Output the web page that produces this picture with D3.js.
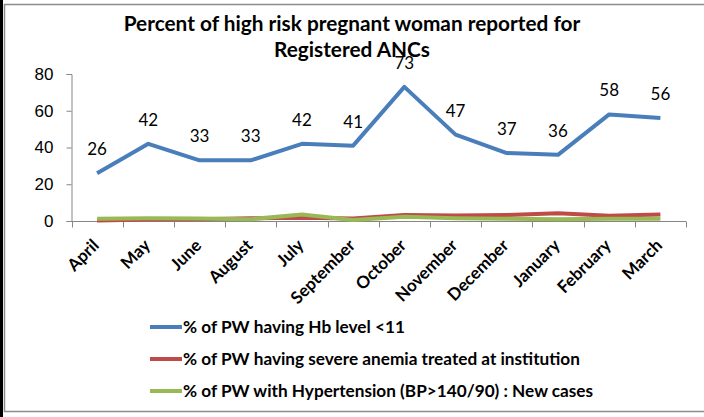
<!DOCTYPE html>
<html lang="en">
<head>
<meta charset="UTF-8">
<title>Percent of high risk pregnant woman reported for Registered ANCs</title>
<script src="https://d3js.org/d3.v7.min.js"></script>
<style>
    body { margin: 0; background: #fff; }
    svg { display: block; font-family: Lato, "Open Sans", sans-serif; }
    .axis path, .axis line { stroke: #868686; }
    .axis text { fill: #000; }
</style>
</head>
<body>
<svg id="chart" width="704" height="417"></svg>
<script>
const months = ["April", "May", "June", "August", "July", "September", "October",
    "November", "December", "January", "February", "March"];
const hbLow = [26, 42, 33, 33, 42, 41, 73, 47, 37, 36, 58, 56];
const severeAnemia = [0.3, 0.8, 1, 1.5, 1.8, 1.3, 3.3, 3, 3.3, 4.2, 2.8, 3.5];
const hypertension = [1.2, 1.5, 1.3, 1.0, 3.5, 0.6, 2.3, 1.5, 1.2, 1.0, 1.2, 1.2];
const yTicks = [0, 20, 40, 60, 80];

const series = [
    {name: "% of PW having Hb level <11", values: hbLow, color: "#4a7ebb"},
    {name: "% of PW having severe anemia treated at institution", values: severeAnemia, color: "#be4b48"},
    {name: "% of PW with Hypertension (BP>140/90) : New cases", values: hypertension, color: "#98b954"}
];

const svg = d3.select("#chart");

// frame
svg.append("rect").attr("x", 0).attr("y", 0).attr("width", 3).attr("height", 417).attr("fill", "#000");
svg.append("rect").attr("x", 4.5).attr("y", 4.5).attr("width", 710).attr("height", 407)
    .attr("fill", "none").attr("stroke", "#8c8c8c").attr("stroke-width", 1.5);

// title
const title = svg.append("text").attr("text-anchor", "middle")
    .style("font-weight", "bold").style("font-size", "20.8px");
title.append("tspan").attr("x", 352).attr("y", 31).text("Percent of high risk pregnant woman reported for");
title.append("tspan").attr("x", 352).attr("y", 57).text("Registered ANCs");

const x = d3.scaleBand().domain(months).range([71.5, 686]);
const y = d3.scaleLinear().domain([0, 80]).range([221, 74]);

// y axis
const yAxis = svg.append("g").attr("class", "axis")
    .attr("transform", "translate(71.5,0)")
    .call(d3.axisLeft(y).tickValues(yTicks).tickSize(5).tickPadding(13));
yAxis.selectAll("text").style("font-size", "17px");

// x axis with ticks at band edges
const xAxis = svg.append("g").attr("class", "axis").attr("transform", "translate(0,221.5)");
xAxis.append("line").attr("x1", x.range()[0]).attr("x2", x.range()[1]).attr("stroke", "#868686");
xAxis.selectAll(".edge").data(d3.range(months.length + 1)).join("line")
    .attr("x1", i => Math.round(x.range()[0] + i * x.step()) + 0.5)
    .attr("x2", i => Math.round(x.range()[0] + i * x.step()) + 0.5)
    .attr("y1", 0).attr("y2", 6).attr("stroke", "#868686");
xAxis.selectAll(".lab").data(months).join("text")
    .attr("transform", d => `translate(${x(d) + x.bandwidth() / 2 + 3},25) rotate(-45)`)
    .attr("text-anchor", "end")
    .style("font-weight", "bold").style("font-size", "17px")
    .text(d => d);

const line = d3.line()
    .x((d, i) => x(months[i]) + x.bandwidth() / 2)
    .y(d => y(d));

// red first, then green, blue on top
[series[1], series[2], series[0]].forEach(s => {
    svg.append("path").datum(s.values)
        .attr("d", line).attr("fill", "none")
        .attr("stroke", s.color).attr("stroke-width", 4)
        .attr("stroke-linejoin", "round");
});

// data labels for the Hb series
svg.selectAll(".dl").data(hbLow).join("text")
    .attr("x", (d, i) => x(months[i]) + x.bandwidth() / 2)
    .attr("y", d => y(d) - 18)
    .attr("text-anchor", "middle").style("font-size", "17px")
    .text(d => d);

// legend
const legend = svg.selectAll(".lg").data(series).join("g")
    .attr("transform", (d, i) => `translate(150,${327 + i * 32})`);
legend.append("line").attr("x1", 0).attr("x2", 32)
    .attr("stroke", d => d.color).attr("stroke-width", 4);
legend.append("text").attr("x", 33).attr("dy", "0.35em")
    .style("font-weight", "bold").style("font-size", "17.2px")
    .text(d => d.name);
</script>
</body>
</html>
